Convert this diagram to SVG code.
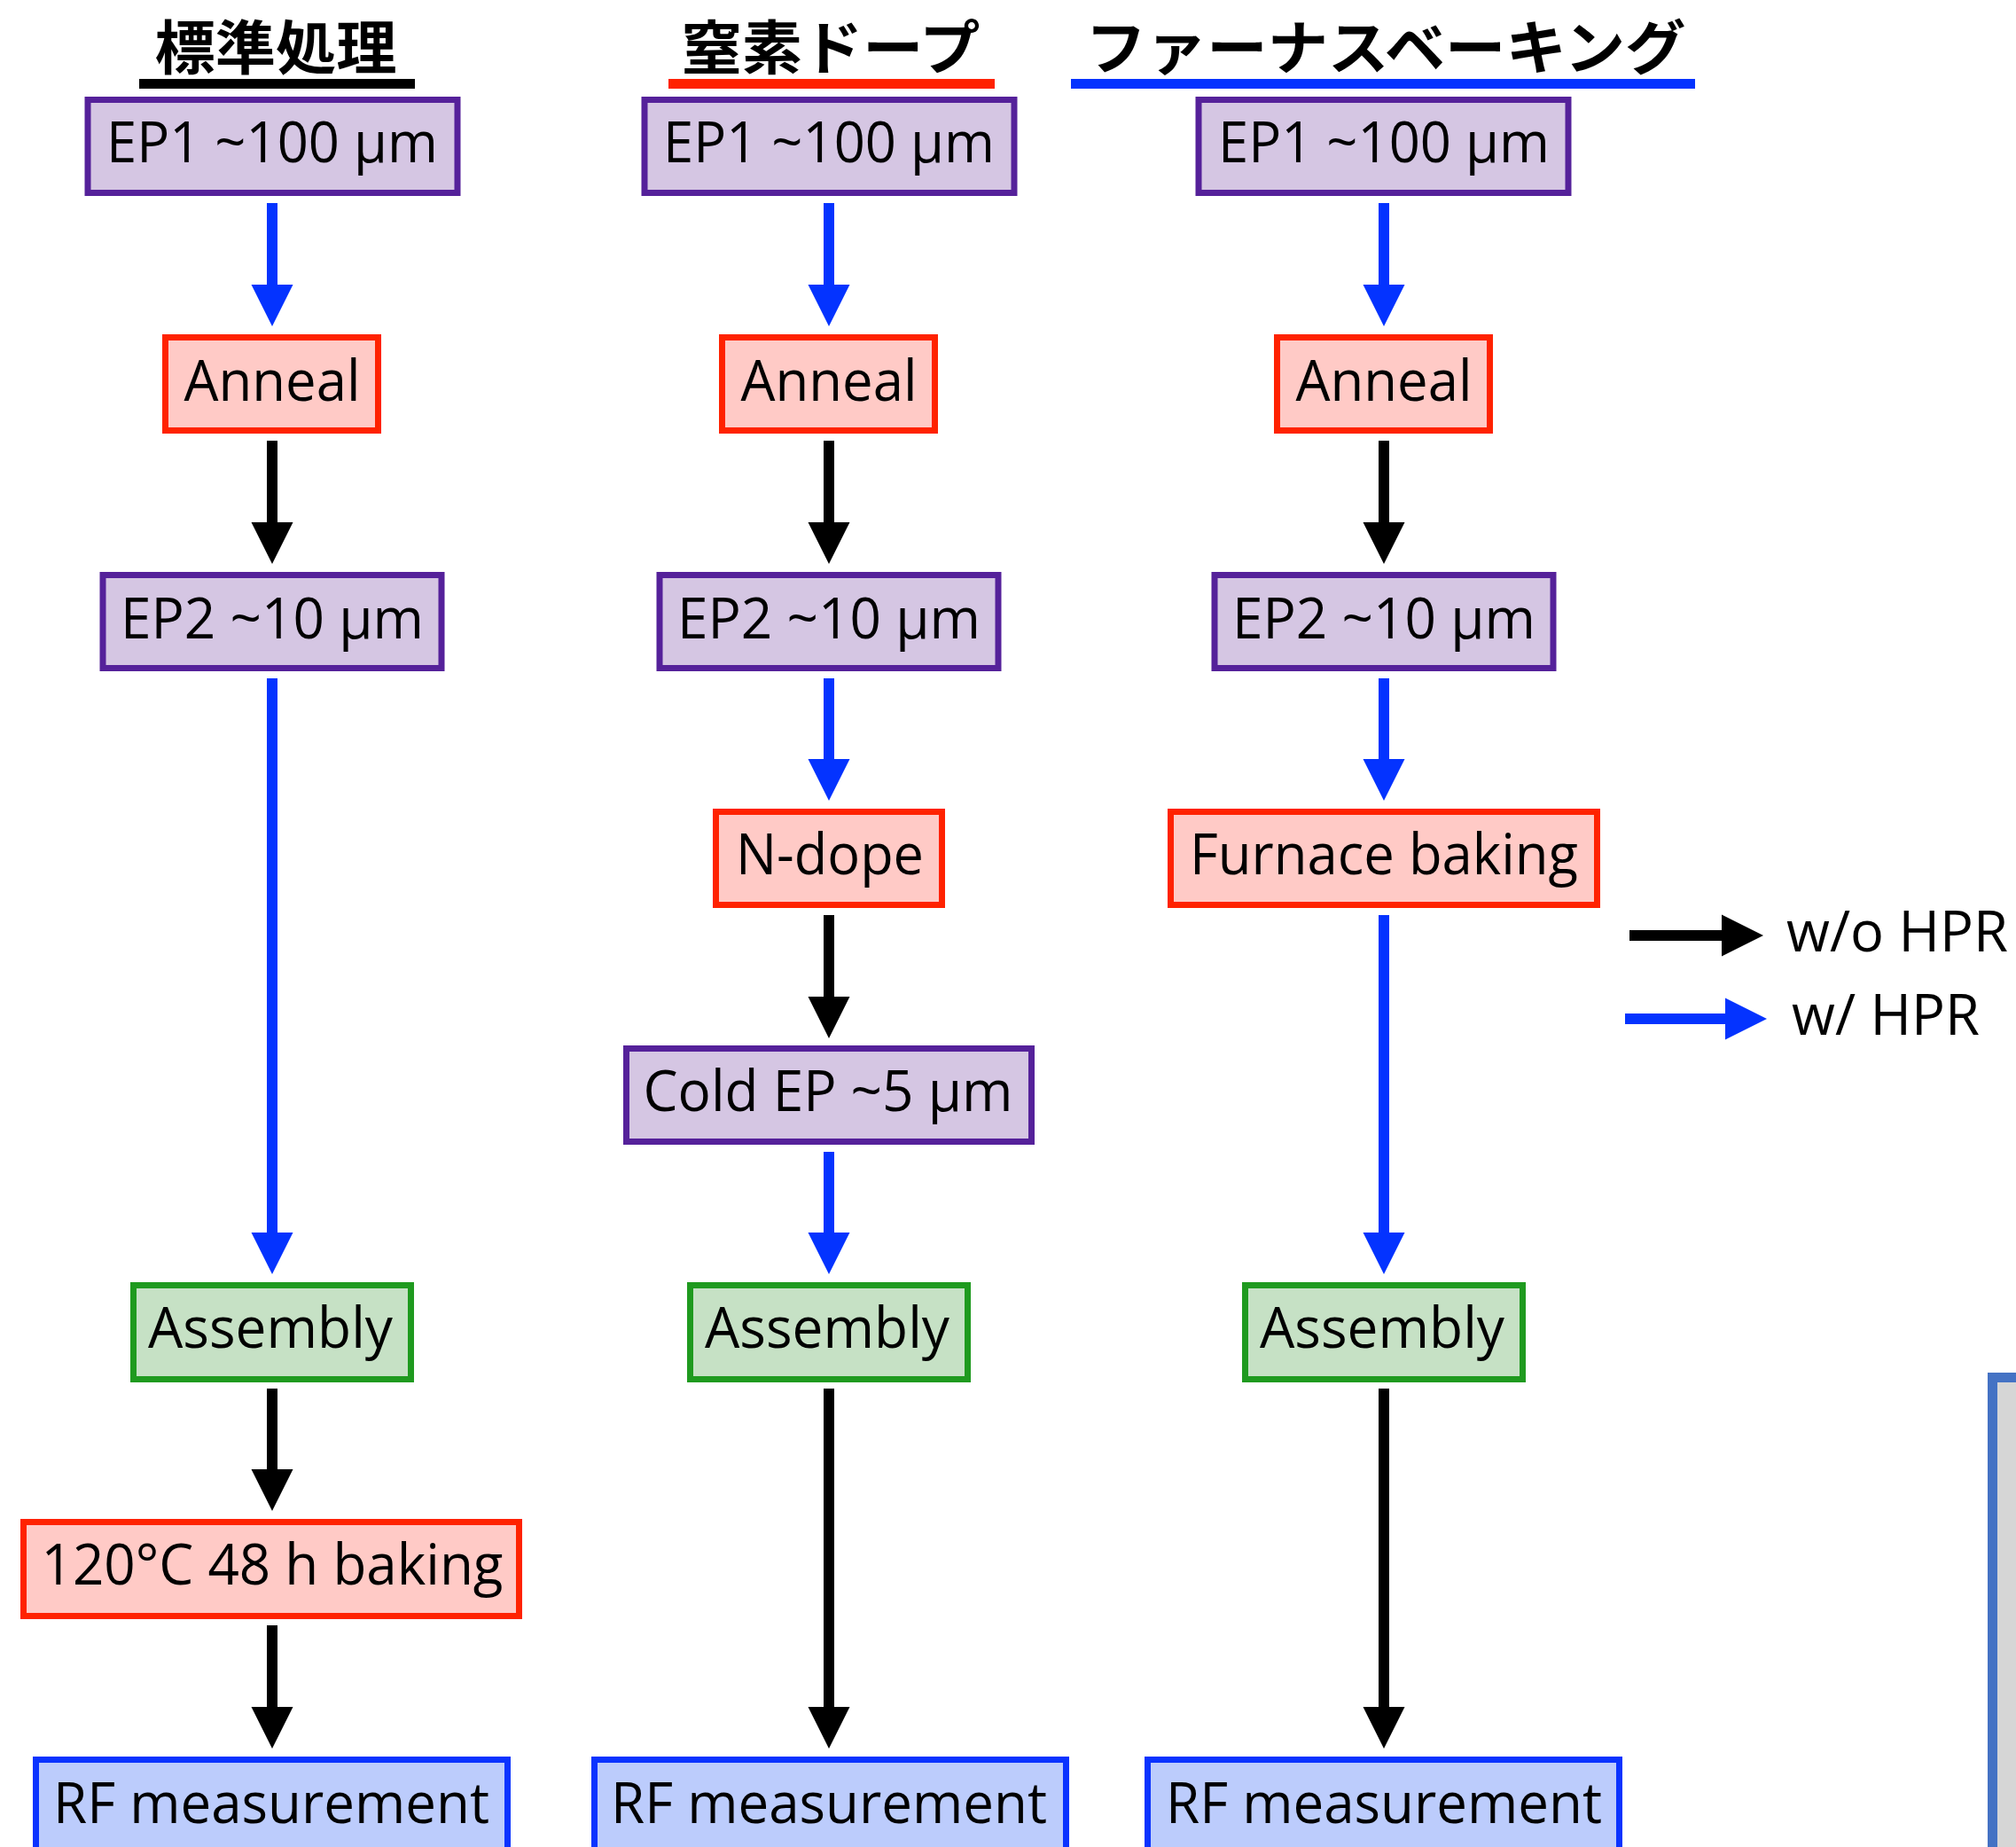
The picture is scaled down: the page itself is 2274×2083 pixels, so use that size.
<svg xmlns="http://www.w3.org/2000/svg" width="2274" height="2083" viewBox="0 0 2274 2083">
<style>
.t{font-family:"Open Sans","Liberation Sans",sans-serif;font-size:64px;fill:#000;text-anchor:middle}
.h{font-family:"Noto Sans CJK JP","Noto Sans CJK SC",sans-serif;font-size:66px;font-weight:700;fill:#000;text-anchor:middle}
.pu{fill:#D5C6E3;stroke:#55219A;stroke-width:7}
.rd{fill:#FFCAC6;stroke:#FF2200;stroke-width:7}
.gr{fill:#C6E1C5;stroke:#1F9A1F;stroke-width:7}
.bl{fill:#BCCCFC;stroke:#0A33FF;stroke-width:7}
.ab{stroke:#000;stroke-width:12;fill:none;marker-end:url(#hk)}
.au{stroke:#0433FF;stroke-width:12;fill:none;marker-end:url(#hb)}
</style>
<defs>
<marker id="hk" markerUnits="userSpaceOnUse" markerWidth="48" markerHeight="48" refX="0" refY="23.5" orient="auto" viewBox="0 0 48 48" overflow="visible"><path d="M0,0 L47,23.5 L0,47 Z" fill="#000"/></marker>
<marker id="hb" markerUnits="userSpaceOnUse" markerWidth="48" markerHeight="48" refX="0" refY="23.5" orient="auto" viewBox="0 0 48 48" overflow="visible"><path d="M0,0 L47,23.5 L0,47 Z" fill="#0433FF"/></marker>
</defs>
<rect width="2274" height="2083" fill="#fff"/>

<g id="titles">
<text class="h" x="311" y="78" textLength="273" lengthAdjust="spacingAndGlyphs">標準処理</text>
<rect x="157" y="89" width="311" height="11" fill="#000"/>
<text class="h" x="937" y="78" textLength="337" lengthAdjust="spacingAndGlyphs">窒素ドープ</text>
<rect x="754" y="89" width="368" height="11" fill="#FF2200"/>
<text class="h" x="1563" y="78" textLength="677" lengthAdjust="spacingAndGlyphs">ファーナスベーキング</text>
<rect x="1208" y="89" width="704" height="11" fill="#0433FF"/>
</g>

<g id="connectors">
<line class="au" x1="307" y1="229" x2="307" y2="321"/>
<line class="ab" x1="307" y1="497" x2="307" y2="589"/>
<line class="au" x1="307" y1="765" x2="307" y2="1390"/>
<line class="ab" x1="307" y1="1566" x2="307" y2="1657"/>
<line class="ab" x1="307" y1="1833" x2="307" y2="1925"/>

<line class="au" x1="935" y1="229" x2="935" y2="321"/>
<line class="ab" x1="935" y1="497" x2="935" y2="589"/>
<line class="au" x1="935" y1="765" x2="935" y2="856"/>
<line class="ab" x1="935" y1="1032" x2="935" y2="1124"/>
<line class="au" x1="935" y1="1299" x2="935" y2="1390"/>
<line class="ab" x1="935" y1="1566" x2="935" y2="1925"/>

<line class="au" x1="1561" y1="229" x2="1561" y2="321"/>
<line class="ab" x1="1561" y1="497" x2="1561" y2="589"/>
<line class="au" x1="1561" y1="765" x2="1561" y2="856"/>
<line class="au" x1="1561" y1="1032" x2="1561" y2="1390"/>
<line class="ab" x1="1561" y1="1566" x2="1561" y2="1925"/>

<line class="ab" x1="1838" y1="1055" x2="1942" y2="1055"/>
<line class="au" x1="1833" y1="1149" x2="1946" y2="1149"/>
</g>

<g id="legend">
<text class="t" x="2140" y="1073" textLength="250" lengthAdjust="spacingAndGlyphs">w/o HPR</text>
<text class="t" x="2127" y="1167" textLength="212" lengthAdjust="spacingAndGlyphs">w/ HPR</text>
</g>

<!-- Column 1 -->
<g id="c1-ep1"><rect class="pu" x="99" y="112.5" width="417" height="105"/><text class="t" x="307" y="183" textLength="374" lengthAdjust="spacingAndGlyphs">EP1 ~100 μm</text></g>
<g id="c1-anneal"><rect class="rd" x="186.5" y="380.5" width="240" height="105"/><text class="t" x="307" y="452" textLength="199" lengthAdjust="spacingAndGlyphs">Anneal</text></g>
<g id="c1-ep2"><rect class="pu" x="116" y="648.5" width="382" height="105"/><text class="t" x="307" y="720" textLength="342" lengthAdjust="spacingAndGlyphs">EP2 ~10 μm</text></g>
<g id="c1-assembly"><rect class="gr" x="150.5" y="1449.5" width="313" height="106"/><text class="t" x="305" y="1520" textLength="276" lengthAdjust="spacingAndGlyphs">Assembly</text></g>
<g id="c1-baking"><rect class="rd" x="26.5" y="1716.5" width="559" height="106"/><text class="t" x="307" y="1787" textLength="521" lengthAdjust="spacingAndGlyphs">120°C 48 h baking</text></g>
<g id="c1-rf"><rect class="bl" x="40.5" y="1984.5" width="532" height="130"/><text class="t" x="306" y="2056" textLength="492" lengthAdjust="spacingAndGlyphs">RF measurement</text></g>

<!-- Column 2 -->
<g id="c2-ep1"><rect class="pu" x="727" y="112.5" width="417" height="105"/><text class="t" x="935" y="183" textLength="374" lengthAdjust="spacingAndGlyphs">EP1 ~100 μm</text></g>
<g id="c2-anneal"><rect class="rd" x="814.5" y="380.5" width="240" height="105"/><text class="t" x="935" y="452" textLength="199" lengthAdjust="spacingAndGlyphs">Anneal</text></g>
<g id="c2-ep2"><rect class="pu" x="744" y="648.5" width="382" height="105"/><text class="t" x="935" y="720" textLength="342" lengthAdjust="spacingAndGlyphs">EP2 ~10 μm</text></g>
<g id="c2-ndope"><rect class="rd" x="807.5" y="915.5" width="255" height="105"/><text class="t" x="936" y="986" textLength="212" lengthAdjust="spacingAndGlyphs">N-dope</text></g>
<g id="c2-coldep"><rect class="pu" x="706.5" y="1182.5" width="457" height="105"/><text class="t" x="934" y="1253" textLength="417" lengthAdjust="spacingAndGlyphs">Cold EP ~5 μm</text></g>
<g id="c2-assembly"><rect class="gr" x="778.5" y="1449.5" width="313" height="106"/><text class="t" x="933" y="1520" textLength="276" lengthAdjust="spacingAndGlyphs">Assembly</text></g>
<g id="c2-rf"><rect class="bl" x="670.5" y="1984.5" width="532" height="130"/><text class="t" x="935" y="2056" textLength="492" lengthAdjust="spacingAndGlyphs">RF measurement</text></g>

<!-- Column 3 -->
<g id="c3-ep1"><rect class="pu" x="1352" y="112.5" width="417" height="105"/><text class="t" x="1561" y="183" textLength="374" lengthAdjust="spacingAndGlyphs">EP1 ~100 μm</text></g>
<g id="c3-anneal"><rect class="rd" x="1440.5" y="380.5" width="240" height="105"/><text class="t" x="1561" y="452" textLength="199" lengthAdjust="spacingAndGlyphs">Anneal</text></g>
<g id="c3-ep2"><rect class="pu" x="1370" y="648.5" width="382" height="105"/><text class="t" x="1561" y="720" textLength="342" lengthAdjust="spacingAndGlyphs">EP2 ~10 μm</text></g>
<g id="c3-furnace"><rect class="rd" x="1320.5" y="915.5" width="481" height="105"/><text class="t" x="1561" y="986" textLength="438" lengthAdjust="spacingAndGlyphs">Furnace baking</text></g>
<g id="c3-assembly"><rect class="gr" x="1404.5" y="1449.5" width="313" height="106"/><text class="t" x="1559" y="1520" textLength="276" lengthAdjust="spacingAndGlyphs">Assembly</text></g>
<g id="c3-rf"><rect class="bl" x="1294.5" y="1984.5" width="532" height="130"/><text class="t" x="1561" y="2056" textLength="492" lengthAdjust="spacingAndGlyphs">RF measurement</text></g>

<g id="partial-box"><rect x="2247.5" y="1553.5" width="100" height="600" fill="#D6D6D6" stroke="#4472C4" stroke-width="11"/></g>
</svg>
